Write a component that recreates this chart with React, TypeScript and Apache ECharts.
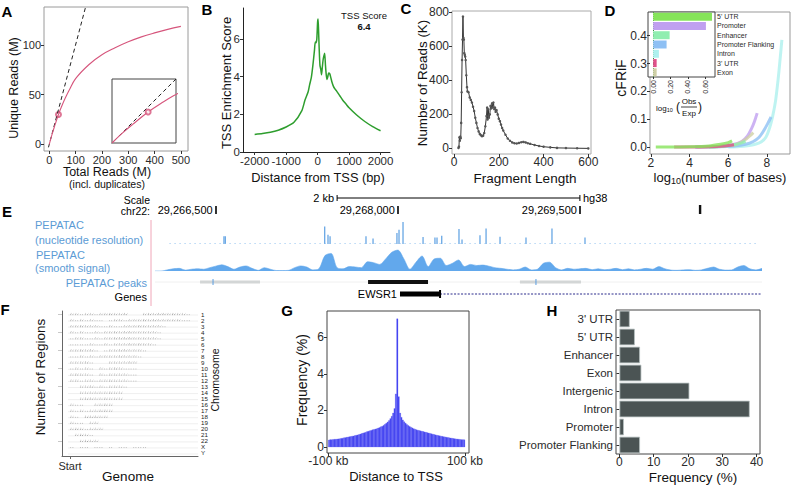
import React, { useEffect, useRef } from "react";
import * as echarts from "echarts";

const FONT = '"Liberation Sans", Arial, Helvetica, sans-serif';

// ---------------- A: library complexity ----------------
const aTotalReads = [0, 10, 20, 35, 50, 60, 75, 100, 150, 200, 250, 300, 350, 400, 450, 500];
const aUniqueReads = [0, 9.5, 18, 30, 40, 46, 54, 66, 80, 90, 97, 103, 108, 112, 115.5, 118.5];
const aIdentity = [-3, 138];
const aSampled = [35, 30];
const aTicksX = [0, 100, 200, 300, 400, 500];
const aTicksY = [0, 50, 100];

// ---------------- B: TSS enrichment ----------------
const bDistance = [-2000, -1750, -1500, -1250, -1000, -750, -500, -400, -300, -250, -200, -150, -100, -75, -50, -25, 0, 15, 30, 50, 75, 100, 125, 150, 175, 200, 225, 250, 275, 300, 325, 350, 387, 420, 450, 500, 550, 600, 700, 800, 900, 1000, 1250, 1500, 1750, 2000];
const bScore = [0.93, 0.98, 1.05, 1.16, 1.33, 1.58, 2.2, 2.76, 3.2, 3.6, 3.95, 4.6, 5.4, 5.85, 5.8, 6.0, 6.9, 7.07, 6.5, 5.5, 4.6, 4.4, 4.1, 4.5, 4.9, 5.1, 5.25, 4.6, 4.1, 3.85, 4.0, 4.2, 4.15, 3.95, 3.75, 3.5, 3.35, 3.25, 3.0, 2.75, 2.55, 2.35, 1.95, 1.62, 1.35, 1.13];
const bTicksX = [-2000, -1000, 0, 1000, 2000];
const bTicksY = [0, 2, 4, 6];
const bScoreLabel = "TSS Score";
const bScoreValue = "6.4";

// ---------------- C: fragment length ----------------
const cLength = [20, 22, 24, 26, 28, 30, 32, 34, 36, 38, 40, 42, 44, 46, 48, 50, 52, 55, 58, 60, 65, 70, 75, 80, 85, 90, 95, 100, 105, 110, 115, 120, 125, 130, 135, 140, 145, 148, 150, 153, 156, 160, 163, 166, 170, 173, 176, 180, 183, 186, 190, 195, 200, 205, 210, 215, 220, 230, 240, 250, 260, 270, 280, 290, 300, 310, 320, 330, 340, 360, 380, 400, 430, 460, 500, 550, 600];
const cReads = [3, 10, 65, 45, 70, 60, 150, 330, 520, 640, 775, 650, 640, 560, 550, 540, 520, 430, 360, 335, 330, 300, 285, 270, 245, 220, 180, 150, 120, 100, 85, 78, 72, 75, 90, 130, 190, 240, 170, 230, 180, 200, 250, 235, 265, 240, 270, 230, 240, 215, 225, 200, 175, 160, 140, 120, 105, 80, 58, 45, 35, 30, 29, 32, 36, 38, 35, 30, 27, 20, 14, 10, 6, 3, 2, 1, 0];
const cTicksX = [0, 200, 400, 600];
const cTicksY = [0, 200, 400, 600, 800];

// ---------------- D: cFRiF ----------------
const dFeatures = ["5' UTR", "Promoter", "Enhancer", "Promoter Flanking", "Intron", "3' UTR", "Exon"];
const dColors = ["#86e45a", "#c0a0f0", "#90eeb0", "#8ec0f4", "#aef0ee", "#e0508a", "#cfcfa6"];
const dObsExp = [0.68, 0.61, 0.19, 0.155, 0.066, 0.04, 0.04];
const dCurves: Record<string, { x: number[]; y: number[] }> = {
  "Intron": { x: [6.0, 6.6, 7.0, 7.4, 7.7, 7.95, 8.15, 8.3, 8.45, 8.58, 8.68, 8.78], y: [0, 0.002, 0.005, 0.01, 0.018, 0.035, 0.07, 0.11, 0.165, 0.24, 0.31, 0.385] },
  "Promoter Flanking": { x: [4.3, 5.5, 6.3, 6.9, 7.3, 7.6, 7.85, 8.05, 8.22], y: [0, 0.001, 0.004, 0.01, 0.02, 0.035, 0.06, 0.085, 0.108] },
  "Promoter": { x: [4.3, 5.5, 6.2, 6.7, 7.0, 7.2, 7.35, 7.5], y: [0, 0.002, 0.008, 0.02, 0.04, 0.065, 0.09, 0.122] },
  "Exon": { x: [4.4, 5.5, 6.2, 6.6, 6.95, 7.15, 7.3], y: [0, 0.002, 0.006, 0.015, 0.03, 0.042, 0.052] },
  "Enhancer": { x: [5.0, 5.8, 6.3, 6.7, 6.9], y: [0, 0.003, 0.008, 0.015, 0.02] },
  "3' UTR": { x: [3.2, 4.0, 5.0, 5.8, 6.3], y: [0, 0, 0.001, 0.004, 0.008] },
  "5' UTR": { x: [2.25, 3.0, 4.0, 5.0, 5.6, 6.0, 6.2], y: [0, 0, 0.001, 0.004, 0.01, 0.016, 0.022] },
};
const dTicksX = [2, 4, 6, 8];
const dTicksY = [0, 0.1, 0.2, 0.3, 0.4];
const dInsetTicks = [0, 0.2, 0.4, 0.6];

// ---------------- E: genome browser ----------------
const eChrom = "chr22:";
const eWindow = [29266000, 29271000];
const eRulerTicks = [29266500, 29268000, 29269500];
const eScaleBar = [29267500, 29269500];
const eScaleLabel = "2 kb";
const eAssembly = "hg38";
const eMark = [29270490];
const eSpikePos = [29266568, 29266579, 29267398, 29267425, 29267442, 29267738, 29267796, 29267993, 29268010, 29268043, 29268208, 29268306, 29268323, 29268362, 29268504, 29268529, 29268677, 29268727, 29268842, 29269056, 29269270, 29269542];
const eSpikeHeight = [0.35, 0.35, 0.8, 0.42, 0.35, 0.35, 0.25, 0.5, 0.65, 1.0, 0.32, 0.3, 0.3, 0.38, 0.68, 0.2, 0.4, 0.7, 0.33, 0.3, 0.7, 0.3];
const eNucleotideSpan = [29266120, 29270950];
const eSmoothBinBp = 50;
const eSmooth = [0, 0, 0.05, 0.1, 0.12, 0.04, 0.08, 0.1, 0.08, 0.15, 0.22, 0.28, 0.2, 0.08, 0.18, 0.23, 0.12, 0.03, 0.15, 0.08, 0.02, 0.02, 0.03, 0.15, 0.23, 0.18, 0.05, 0.1, 0.7, 0.8, 0.15, 0.1, 0.2, 0.18, 0.15, 0.42, 0.38, 0.3, 0.55, 0.85, 0.95, 0.55, 0.08, 0.4, 0.68, 0.2, 0.55, 0.58, 0.25, 0.35, 0.5, 0.2, 0.3, 0.25, 0.27, 0.22, 0.15, 0.12, 0.08, 0.05, 0.08, 0.18, 0.05, 0.08, 0.35, 0.4, 0.15, 0.05, 0.12, 0.08, 0.1, 0.12, 0.06, 0.1, 0.06, 0.08, 0.12, 0.06, 0.1, 0.05, 0.08, 0.12, 0.08, 0.2, 0.1, 0.04, 0.03, 0.05, 0.06, 0.03, 0.05, 0.12, 0.18, 0.08, 0.04, 0.05, 0.18, 0.25, 0.1, 0.05, 0.12];
const ePeaks = [[29266371, 29266865, 0], [29267755, 29268249, 1], [29269006, 29269509, 0]];
const ePeakSummits = [29266478, 29269138];
const eGeneName = "EWSR1";
const eGeneThick = [29268018, 29268348];
const eGeneEnd = 29271000;
const eTrackLabels = ["PEPATAC", "(nucleotide resolution)", "PEPATAC", "(smooth signal)", "PEPATAC peaks", "Genes"];

// ---------------- F: chromosome distribution ----------------
const fChromosomes = ["1", "2", "3", "4", "5", "6", "7", "8", "9", "10", "11", "12", "13", "14", "15", "16", "17", "18", "19", "20", "21", "22", "X", "Y"];
const fBinMb = 10;
const fDensity = [
  [2, 2, 1, 2, 2, 1, 2, 2, 3, 2, 2, 3, 0, 0, 0, 2, 3, 2, 3, 3, 2, 3, 2, 2, 1],
  [2, 1, 2, 1, 2, 1, 1, 0, 1, 2, 2, 1, 2, 2, 2, 3, 2, 3, 2, 2, 2, 2, 2, 1, 1],
  [2, 2, 3, 2, 2, 2, 1, 1, 2, 1, 1, 2, 2, 2, 3, 2, 2, 2, 2, 1],
  [2, 1, 2, 1, 1, 2, 1, 2, 2, 3, 2, 3, 3, 2, 2, 2, 2, 2, 1],
  [1, 2, 2, 1, 1, 2, 1, 2, 2, 3, 3, 3, 3, 2, 2, 2, 2, 2, 1],
  [1, 1, 1, 1, 2, 1, 1, 2, 1, 2, 2, 2, 3, 2, 3, 2, 2, 1],
  [2, 2, 3, 2, 3, 1, 0, 1, 2, 2, 3, 3, 2, 2, 2, 1],
  [1, 1, 2, 1, 2, 1, 2, 2, 2, 2, 3, 2, 2, 2, 1],
  [2, 2, 2, 3, 1, 0, 0, 0, 2, 2, 2, 2, 3, 2],
  [1, 2, 1, 2, 1, 0, 2, 1, 2, 3, 2, 1, 1, 1],
  [2, 3, 2, 2, 1, 0, 2, 1, 2, 2, 2, 2, 1, 1],
  [2, 2, 1, 2, 2, 1, 2, 2, 3, 2, 2, 2, 1, 1],
  [0, 0, 2, 2, 3, 1, 2, 1, 2, 2, 2, 1],
  [0, 0, 2, 2, 2, 2, 2, 2, 3, 2, 2],
  [0, 0, 2, 3, 3, 2, 2, 3, 2, 2, 2],
  [2, 1, 1, 0, 0, 2, 2, 3, 2],
  [2, 1, 2, 1, 2, 2, 3, 3, 2],
  [2, 1, 0, 3, 3, 3, 2, 2],
  [2, 1, 1, 0, 2, 2],
  [2, 3, 2, 1, 2, 2, 2],
  [0, 2, 3, 2, 1],
  [0, 0, 2, 3, 2, 2],
  [1, 0, 1, 1, 0, 1, 1, 0, 1, 0, 1, 1, 0, 1, 1, 1],
  [0, 0, 0, 0, 0, 0],
];
const fStartLabel = "Start";

// ---------------- G: distance to TSS histogram ----------------
const gBinKb = 2;
const gFirstBinKb = -100;
const gFrequency = [0.38, 0.40, 0.40, 0.41, 0.42, 0.42, 0.43, 0.44, 0.45, 0.47, 0.48, 0.50, 0.51, 0.53, 0.54, 0.56, 0.57, 0.59, 0.60, 0.62, 0.64, 0.66, 0.68, 0.71, 0.73, 0.76, 0.78, 0.81, 0.84, 0.86, 0.89, 0.91, 0.94, 0.96, 0.98, 1.0, 1.03, 1.06, 1.10, 1.13, 1.18, 1.24, 1.30, 1.37, 1.45, 1.55, 1.68, 1.85, 2.1, 2.9, 7.0, 2.75, 1.85, 1.62, 1.48, 1.38, 1.30, 1.23, 1.17, 1.12, 1.08, 1.04, 1.0, 0.97, 0.94, 0.92, 0.90, 0.88, 0.86, 0.84, 0.82, 0.80, 0.78, 0.76, 0.74, 0.72, 0.70, 0.68, 0.66, 0.64, 0.62, 0.61, 0.59, 0.58, 0.56, 0.55, 0.53, 0.52, 0.50, 0.49, 0.48, 0.46, 0.45, 0.44, 0.43, 0.42, 0.41, 0.40, 0.40, 0.39];
const gTicksX = [-100, 100];
const gTicksY = [0, 2, 4, 6];

// ---------------- H: genomic partitions ----------------
const hCategories = ["3' UTR", "5' UTR", "Enhancer", "Exon", "Intergenic", "Intron", "Promoter", "Promoter Flanking"];
const hFrequency = [3.0, 4.5, 6.0, 6.4, 20.4, 38.0, 1.3, 6.0];
const hTicksX = [0, 10, 20, 30, 40];

// ---------------- helpers ----------------
const TXT = "#2b2b2b";
function valAxis(grid: number, min: number, max: number, ticks: number[], o: any = {}) {
  const label: any = {
    show: o.noLabel ? false : true,
    customValues: ticks,
    fontSize: o.fontSize ?? 11,
    color: TXT,
    margin: o.margin ?? 3,
    fontFamily: FONT,
    formatter: o.fmt ?? ((v: number) => String(v)),
    showMinLabel: true,
    showMaxLabel: true,
    hideOverlap: false,
  };
  return {
    type: "value",
    gridIndex: grid,
    min,
    max,
    position: o.position,
    axisLine: { show: !!o.line, onZero: false, lineStyle: { color: "#222", width: 1 } },
    axisTick: { show: true, length: o.tickLen ?? 3, lineStyle: { color: "#333" }, customValues: ticks },
    axisLabel: label,
    splitLine: { show: false },
  };
}
function hiddenAxis(grid: number, min: number, max: number) {
  return { type: "value", gridIndex: grid, min, max, show: false, axisLine: { onZero: false }, splitLine: { show: false } };
}
function txt(text: string, x: number, y: number, o: any = {}) {
  return {
    type: "text",
    x,
    y,
    rotation: o.rot ?? 0,
    z: 100,
    style: {
      text,
      fill: o.fill ?? "#111",
      fontSize: o.size ?? 13,
      fontFamily: FONT,
      fontWeight: o.bold ? "bold" : "normal",
      align: o.align ?? "center",
      verticalAlign: o.va ?? "middle",
      rich: o.rich,
    },
  };
}
const commas = (v: number) => String(Math.round(v)).replace(/\B(?=(\d{3})+(?!\d))/g, ",");

function buildOption() {
  const grids = [
    { left: 44, top: 7, width: 144, height: 144, show: true, borderColor: "#9a9a9a", borderWidth: 1 }, // 0 A
    { left: 112, top: 79, width: 64, height: 64, show: true, borderColor: "#444", borderWidth: 1, backgroundColor: "#fff" }, // 1 A inset
    { left: 243, top: 8, width: 147, height: 144 }, // 2 B
    { left: 452, top: 11, width: 139, height: 143, show: true, borderColor: "#aaa", borderWidth: 1 }, // 3 C
    { left: 650, top: 12, width: 140, height: 142, show: true, borderColor: "#999", borderWidth: 1 }, // 4 D
    { left: 648, top: 12, width: 67, height: 65, show: true, borderColor: "#444", borderWidth: 1, backgroundColor: "#fff" }, // 5 D inset
    { left: 155, top: 206, width: 607, height: 8 }, // 6 E ruler
    { left: 155, top: 222, width: 607, height: 22 }, // 7 E nucleotide
    { left: 155, top: 249, width: 607, height: 22 }, // 8 E smooth
    { left: 155, top: 276, width: 607, height: 24 }, // 9 E peaks/genes
    { left: 62, top: 311, width: 136, height: 145 }, // 10 F
    { left: 327, top: 311, width: 142, height: 142, show: true, borderColor: "#444", borderWidth: 1 }, // 11 G
    { left: 616, top: 310, width: 144, height: 144, show: true, borderColor: "#444", borderWidth: 1 }, // 12 H
  ];

  const xAxis: any[] = [
    valAxis(0, -20, 527, aTicksX),
    hiddenAxis(1, 0, 62),
    valAxis(2, -2370, 2300, bTicksX, { line: true, fontSize: 11.5 }),
    valAxis(3, -9, 612, cTicksX, { fontSize: 12, margin: 2 }),
    valAxis(4, 1.95, 9.2, dTicksX, { fontSize: 12 }),
    valAxis(5, -0.06, 0.715, dInsetTicks, { tickLen: 2, noLabel: true }),
    {
      type: "value", gridIndex: 6, min: eWindow[0], max: eWindow[1], position: "top",
      axisLine: { show: false, onZero: false },
      axisTick: { show: true, inside: true, length: 8, customValues: eRulerTicks, lineStyle: { color: "#000", width: 1.6 } },
      axisLabel: { customValues: eRulerTicks, formatter: (v: number) => commas(v), align: "right", verticalAlign: "middle", margin: -4, padding: [0, 3, 0, 0], fontSize: 11, color: "#000", fontFamily: FONT },
      splitLine: { show: false },
    },
    hiddenAxis(7, eWindow[0], eWindow[1]),
    hiddenAxis(8, eWindow[0], eWindow[1]),
    hiddenAxis(9, eWindow[0], eWindow[1]),
    {
      type: "value", gridIndex: 10, min: -16.5, max: 264,
      axisLine: { show: true, onZero: false, lineStyle: { color: "#666", width: 1 } },
      axisTick: { show: true, length: 3, customValues: [0], lineStyle: { color: "#666" } },
      axisLabel: { customValues: [0], formatter: () => fStartLabel, fontSize: 11, color: TXT, margin: 4, fontFamily: FONT },
      splitLine: { show: false },
    },
    valAxis(11, -102, 106, gTicksX, { fontSize: 12, margin: 2, fmt: (v: number) => `${v} kb` }),
    valAxis(12, -1, 41, hTicksX, { fontSize: 12, margin: 2 }),
  ];

  const yAxis: any[] = [
    valAxis(0, -6.7, 138, aTicksY),
    hiddenAxis(1, 0, 62),
    valAxis(2, 0, 7.65, bTicksY, { line: true, fontSize: 11.5 }),
    valAxis(3, -33, 808, cTicksY, { fontSize: 12 }),
    valAxis(4, -0.025, 0.485, dTicksY, { fontSize: 12, fmt: (v: number) => v.toFixed(1) }),
    {
      type: "category", gridIndex: 5, data: dFeatures, inverse: true, position: "right",
      axisLine: { show: false },
      axisTick: { show: true, length: 2, alignWithLabel: true, lineStyle: { color: "#333" } },
      axisLabel: { fontSize: 7, color: TXT, margin: 2, interval: 0, fontFamily: FONT },
    },
    { type: "value", gridIndex: 6, min: 0, max: 1, show: false },
    hiddenAxis(7, 0, 1),
    hiddenAxis(8, 0, 1),
    hiddenAxis(9, 0, 2),
    {
      type: "category", gridIndex: 10, data: fChromosomes, inverse: true,
      axisLine: { show: true, onZero: false, lineStyle: { color: "#666", width: 1 } },
      axisTick: { show: true, length: 4, alignWithLabel: true, lineStyle: { color: "#c8c8c8" } },
      axisLabel: { show: false },
    },
    valAxis(11, -0.33, 7.43, gTicksY, { fontSize: 12 }),
    {
      type: "category", gridIndex: 12, data: hCategories, inverse: true,
      axisLine: { show: false },
      axisTick: { show: true, length: 3, alignWithLabel: true, lineStyle: { color: "#333" } },
      axisLabel: { fontSize: 11.5, color: TXT, margin: 3, interval: 0, fontFamily: FONT },
    },
    {
      type: "category", gridIndex: 10, data: fChromosomes, inverse: true, position: "right",
      axisLine: { show: false }, axisTick: { show: false },
      axisLabel: { fontSize: 6.2, lineHeight: 6, color: "#222", margin: 3, interval: 0, fontFamily: FONT },
    },
  ];

  const aCurve = aTotalReads.map((x, i) => [x, aUniqueReads[i]]);
  const aDiag = [[aIdentity[0], aIdentity[0]], [aIdentity[1], aIdentity[1]]];
  const RED = "#d6557c";

  const series: any[] = [];
  // A
  series.push({ type: "line", xAxisIndex: 0, yAxisIndex: 0, data: aDiag, showSymbol: false, lineStyle: { color: "#222", width: 1, type: [4, 3] } });
  series.push({ type: "line", xAxisIndex: 0, yAxisIndex: 0, data: aCurve, smooth: 0.4, showSymbol: false, lineStyle: { color: RED, width: 1.1 } });
  series.push({ type: "scatter", xAxisIndex: 0, yAxisIndex: 0, data: [aSampled], symbol: "emptyCircle", symbolSize: 5, itemStyle: { color: RED, borderColor: RED, borderWidth: 1 } });
  series.push({ type: "line", xAxisIndex: 1, yAxisIndex: 1, data: aDiag, showSymbol: false, clip: true, lineStyle: { color: "#222", width: 1, type: [4, 3] }, z: 5 });
  series.push({ type: "line", xAxisIndex: 1, yAxisIndex: 1, data: aCurve, smooth: 0.4, showSymbol: false, clip: true, lineStyle: { color: RED, width: 1.1 }, z: 5 });
  series.push({ type: "scatter", xAxisIndex: 1, yAxisIndex: 1, data: [aSampled], symbol: "emptyCircle", symbolSize: 5, itemStyle: { color: RED, borderColor: RED, borderWidth: 1 }, z: 5 });
  // B
  series.push({ type: "line", xAxisIndex: 2, yAxisIndex: 2, data: bDistance.map((x, i) => [x, bScore[i]]), smooth: 0.2, showSymbol: false, lineStyle: { color: "#2e9e2e", width: 1.5 } });
  // C
  series.push({ type: "line", xAxisIndex: 3, yAxisIndex: 3, data: cLength.map((x, i) => [x, cReads[i]]), symbol: "circle", symbolSize: 2.5, showSymbol: true, lineStyle: { color: "#333", width: 1 }, itemStyle: { color: "#555" } });
  // D curves
  Object.keys(dCurves).forEach((name) => {
    const c = dCurves[name];
    const col = dColors[dFeatures.indexOf(name)];
    series.push({ type: "line", xAxisIndex: 4, yAxisIndex: 4, data: c.x.map((x, i) => [x, c.y[i]]), smooth: 0.3, showSymbol: false, lineStyle: { color: col, width: 3, opacity: 0.8 } });
  });
  // D inset bars
  series.push({
    type: "bar", xAxisIndex: 5, yAxisIndex: 5, z: 6, barCategoryGap: "14%",
    data: dObsExp.map((v, i) => ({ value: v, itemStyle: { color: dColors[i] } })),
    markLine: { silent: true, symbol: "none", label: { show: false }, lineStyle: { type: "dotted", color: "#3a8a3a", width: 1 }, data: [{ xAxis: 0 }] },
  });
  // D inset rotated tick labels (below the inset box)
  series.push({
    type: "custom", coordinateSystem: "cartesian2d", xAxisIndex: 5, yAxisIndex: 5, z: 7,
    data: dInsetTicks.map((v) => [v]),
    encode: { x: 0 },
    renderItem: (params: any, api: any) => {
      const c = api.coord([api.value(0), 0]);
      const cs = params.coordSys;
      return {
        type: "text", x: c[0], y: cs.y + cs.height + 3, rotation: Math.PI / 2,
        style: { text: Number(api.value(0)).toFixed(2), align: "right", verticalAlign: "middle", fontSize: 7, fill: TXT, fontFamily: FONT },
      };
    },
  });
  // E ruler: scale bar and mark
  series.push({
    type: "custom", coordinateSystem: "cartesian2d", xAxisIndex: 6, yAxisIndex: 6,
    data: [[eScaleBar[0], eScaleBar[1]]],
    renderItem: (_p: any, api: any) => {
      const a = api.coord([api.value(0), 2]);
      const b = api.coord([api.value(1), 2]);
      const ls = { stroke: "#000", lineWidth: 1 };
      return {
        type: "group",
        children: [
          { type: "line", shape: { x1: a[0], y1: a[1], x2: b[0], y2: b[1] }, style: ls },
          { type: "line", shape: { x1: a[0], y1: a[1] - 3, x2: a[0], y2: a[1] + 3 }, style: ls },
          { type: "line", shape: { x1: b[0], y1: b[1] - 3, x2: b[0], y2: b[1] + 3 }, style: ls },
          { type: "text", x: a[0] - 3, y: a[1], style: { text: eScaleLabel, align: "right", verticalAlign: "middle", fontSize: 11, fill: "#000", fontFamily: FONT } },
          { type: "text", x: b[0] + 3, y: b[1], style: { text: eAssembly, align: "left", verticalAlign: "middle", fontSize: 11, fill: "#000", fontFamily: FONT } },
        ],
      };
    },
  });
  series.push({
    type: "custom", coordinateSystem: "cartesian2d", xAxisIndex: 6, yAxisIndex: 6,
    data: eMark.map((v) => [v]),
    renderItem: (_p: any, api: any) => {
      const a = api.coord([api.value(0), 1]);
      return { type: "rect", shape: { x: a[0] - 1.2, y: a[1] - 1, width: 2.4, height: 9 }, style: { fill: "#111" } };
    },
  });
  // E nucleotide track
  series.push({
    type: "line", xAxisIndex: 7, yAxisIndex: 7, data: eNucleotideSpan.map((x) => [x, 0.02]), showSymbol: false,
    lineStyle: { color: "#8fc0ee", width: 1, type: [1, 4] },
  });
  series.push({
    type: "custom", coordinateSystem: "cartesian2d", xAxisIndex: 7, yAxisIndex: 7,
    data: eSpikePos.map((p, i) => [p, eSpikeHeight[i]]),
    renderItem: (_p: any, api: any) => {
      const b = api.coord([api.value(0), 0]);
      const t = api.coord([api.value(0), api.value(1)]);
      return { type: "rect", shape: { x: b[0] - 0.6, y: t[1], width: 1.2, height: b[1] - t[1] }, style: { fill: "#5b9fe2" } };
    },
  });
  // E smooth signal
  series.push({
    type: "line", xAxisIndex: 8, yAxisIndex: 8, showSymbol: false, smooth: 0.3,
    data: eSmooth.map((v, i) => [eWindow[0] + i * eSmoothBinBp, v]),
    lineStyle: { color: "#62a8ec", width: 0.6 }, areaStyle: { color: "#62a8ec", opacity: 1 },
  });
  // E peaks
  series.push({
    type: "custom", coordinateSystem: "cartesian2d", xAxisIndex: 9, yAxisIndex: 9,
    data: ePeaks,
    renderItem: (params: any, api: any) => {
      const s = api.coord([api.value(0), 1.5]);
      const e = api.coord([api.value(1), 1.5]);
      const strong = api.value(2) === 1;
      const h = strong ? 4 : 3;
      const children: any[] = [];
      if (params.dataIndex === 0) {
        const cs = params.coordSys;
        children.push({ type: "line", shape: { x1: cs.x, y1: s[1], x2: cs.x + cs.width, y2: s[1] }, style: { stroke: "#f0f0f0", lineWidth: 1 } });
      }
      children.push({ type: "rect", shape: { x: s[0], y: s[1] - h / 2, width: e[0] - s[0], height: h }, style: { fill: strong ? "#111" : "#d3d6d6" } });
      return { type: "group", children };
    },
  });
  series.push({
    type: "custom", coordinateSystem: "cartesian2d", xAxisIndex: 9, yAxisIndex: 9,
    data: ePeakSummits.map((v) => [v]),
    renderItem: (_p: any, api: any) => {
      const c = api.coord([api.value(0), 1.5]);
      return { type: "rect", shape: { x: c[0] - 0.5, y: c[1] - 3, width: 1, height: 6 }, style: { fill: "#5b9fe2" } };
    },
    z: 3,
  });
  // E gene
  series.push({
    type: "custom", coordinateSystem: "cartesian2d", xAxisIndex: 9, yAxisIndex: 9,
    data: [[eGeneThick[0], eGeneThick[1], eGeneEnd]],
    renderItem: (_p: any, api: any) => {
      const s = api.coord([api.value(0), 0.5]);
      const e = api.coord([api.value(1), 0.5]);
      const end = api.coord([api.value(2), 0.5]);
      const children: any[] = [
        { type: "line", shape: { x1: e[0], y1: e[1], x2: end[0], y2: e[1] }, style: { stroke: "#2a2a8c", lineWidth: 1, lineDash: [2, 1.5] } },
        { type: "rect", shape: { x: s[0], y: s[1] - 2.5, width: e[0] - s[0], height: 5 }, style: { fill: "#000" } },
        { type: "rect", shape: { x: e[0] - 1, y: s[1] - 4, width: 2, height: 8 }, style: { fill: "#000" } },
        { type: "text", x: s[0] - 3, y: s[1], style: { text: eGeneName, align: "right", verticalAlign: "middle", fontSize: 11, fill: "#000", fontFamily: FONT } },
      ];
      return { type: "group", children };
    },
  });
  // F baselines and density ticks
  series.push({
    type: "custom", coordinateSystem: "cartesian2d", xAxisIndex: 10, yAxisIndex: 10,
    data: fChromosomes.map((_c, i) => [0, i]),
    encode: { x: 0, y: 1 },
    renderItem: (params: any, api: any) => {
      const c = api.coord([0, api.value(1)]);
      const cs = params.coordSys;
      return { type: "line", shape: { x1: cs.x + 6, y1: c[1] + 1, x2: cs.x + cs.width, y2: c[1] + 1 }, style: { stroke: "#e8e8e8", lineWidth: 0.7 } };
    },
  });
  const fData: number[][] = [];
  fDensity.forEach((bins, row) => bins.forEach((v, b) => { if (v > 0) fData.push([b * fBinMb, (b + 1) * fBinMb, row, v]); }));
  series.push({
    type: "custom", coordinateSystem: "cartesian2d", xAxisIndex: 10, yAxisIndex: 10,
    data: fData,
    encode: { x: [0, 1], y: 2 },
    renderItem: (_p: any, api: any) => {
      const p0 = api.coord([api.value(0), api.value(2)]);
      const p1 = api.coord([api.value(1), api.value(2)]);
      const v = api.value(3);
      const y = p0[1] + 0.6;
      const children: any[] = [
        { type: "line", shape: { x1: p0[0] + 0.3, y1: y, x2: p1[0] - 0.3, y2: y }, style: { stroke: "#555", lineWidth: 0.8, lineDash: [0.8, 1.4], opacity: 0.35 + 0.15 * v } },
      ];
      if (v >= 2) {
        children.push({ type: "line", shape: { x1: p0[0] + 0.8, y1: y - 1.2, x2: p1[0] - 0.8, y2: y - 1.2 }, style: { stroke: "#555", lineWidth: 0.7, lineDash: [0.7, 2.2], opacity: 0.25 + 0.15 * v } });
      }
      return { type: "group", children };
    },
  });
  // G histogram
  series.push({
    type: "custom", coordinateSystem: "cartesian2d", xAxisIndex: 11, yAxisIndex: 11,
    data: gFrequency.map((v, i) => [gFirstBinKb + i * gBinKb, gFirstBinKb + (i + 1) * gBinKb, v]),
    encode: { x: [0, 1], y: 2 },
    renderItem: (_p: any, api: any) => {
      const p0 = api.coord([api.value(0), 0]);
      const p1 = api.coord([api.value(1), api.value(2)]);
      return { type: "rect", shape: { x: p0[0], y: p1[1], width: p1[0] - p0[0], height: p0[1] - p1[1] }, style: { fill: "#3d3df0", stroke: "#7070f6", lineWidth: 0.3 } };
    },
  });
  // H bars
  series.push({
    type: "bar", xAxisIndex: 12, yAxisIndex: 12, data: hFrequency, barCategoryGap: "8%",
    itemStyle: { color: "#4b5454", borderColor: "#b8c2c2", borderWidth: 0.8 },
  });

  // ---------- graphic texts ----------
  const graphic: any[] = [];
  [["A", 7, 11], ["B", 207, 9], ["C", 406, 8], ["D", 610, 10], ["E", 7, 211], ["F", 5, 309], ["G", 287, 310], ["H", 552, 310]].forEach(([t, x, y]) =>
    graphic.push(txt(t as string, x as number, y as number, { size: 15, bold: true, fill: "#000" }))
  );
  const R = Math.PI / 2;
  graphic.push(txt("Unique Reads (M)", 14, 88, { rot: R, size: 12.5 }));
  graphic.push(txt("Total Reads (M)", 107, 172, { size: 12.5 }));
  graphic.push(txt("(incl. duplicates)", 107, 184, { size: 10.5 }));
  graphic.push(txt("TSS Enrichment Score", 226, 83, { rot: R, size: 13 }));
  graphic.push(txt("Distance from TSS (bp)", 318, 177, { size: 12.8 }));
  graphic.push(txt(bScoreLabel, 364, 15, { size: 9.5 }));
  graphic.push(txt(bScoreValue, 364, 26, { size: 9.5, bold: true }));
  graphic.push(txt("Number of Reads (K)", 422, 83, { rot: R, size: 13.4 }));
  graphic.push(txt("Fragment Length", 525, 178, { size: 13.5 }));
  graphic.push(txt("cFRiF", 621, 78, { rot: R, size: 14 }));
  graphic.push(txt("{a|log}{b|10}{a|(number of bases)}", 720, 177, { rich: { a: { fontSize: 13, fontFamily: FONT, fill: "#111" }, b: { fontSize: 9, fontFamily: FONT, fill: "#111", padding: [7, 0, 0, 0] } } }));
  // log10(Obs/Exp)
  graphic.push(txt("{a|log}{b|10}", 656, 108, { align: "left", rich: { a: { fontSize: 8, fontFamily: FONT, fill: "#111" }, b: { fontSize: 5.5, fontFamily: FONT, fill: "#111", padding: [4, 0, 0, 0] } } }));
  graphic.push(txt("(", 678, 107, { size: 12 }));
  graphic.push(txt("Obs", 689, 101, { size: 8 }));
  graphic.push({ type: "line", z: 100, shape: { x1: 681, y1: 107, x2: 697, y2: 107 }, style: { stroke: "#111", lineWidth: 0.8 } });
  graphic.push(txt("Exp", 689, 113, { size: 8 }));
  graphic.push(txt(")", 700, 107, { size: 12 }));
  // E labels
  graphic.push(txt("Scale", 150, 200, { align: "right", size: 10.5, fill: "#000" }));
  graphic.push(txt(eChrom, 150, 211, { align: "right", size: 10.5, fill: "#000" }));
  const BLUE = "#5b9bd5";
  graphic.push(txt(eTrackLabels[0], 35, 225, { align: "left", size: 11, fill: BLUE }));
  graphic.push(txt(eTrackLabels[1], 35, 240, { align: "left", size: 11, fill: BLUE }));
  graphic.push(txt(eTrackLabels[2], 36, 255, { align: "left", size: 11, fill: BLUE }));
  graphic.push(txt(eTrackLabels[3], 35, 268, { align: "left", size: 11, fill: BLUE }));
  graphic.push(txt(eTrackLabels[4], 147, 283, { align: "right", size: 11, fill: BLUE }));
  graphic.push(txt(eTrackLabels[5], 147, 297, { align: "right", size: 11, fill: "#000" }));
  graphic.push({ type: "line", z: 100, shape: { x1: 151, y1: 220, x2: 151, y2: 306 }, style: { stroke: "#f0a6b8", lineWidth: 1 } });
  // F labels
  graphic.push(txt("Number of Regions", 40, 377, { rot: R, size: 13.5 }));
  graphic.push(txt("Chromosome", 215, 380, { rot: R, size: 10.5 }));
  graphic.push(txt("Genome", 128, 476, { size: 13.5 }));
  // G / H labels
  graphic.push(txt("Frequency (%)", 302, 380, { rot: R, size: 14 }));
  graphic.push(txt("Distance to TSS", 396, 476, { size: 13 }));
  graphic.push(txt("Frequency (%)", 693, 477, { size: 13.5 }));

  return {
    animation: false,
    backgroundColor: "#fff",
    textStyle: { fontFamily: FONT },
    grid: grids,
    xAxis,
    yAxis,
    series,
    graphic,
  };
}

export default function App() {
  const ref = useRef<HTMLDivElement>(null);
  useEffect(() => {
    if (!ref.current) return;
    const chart = echarts.init(ref.current, null, { renderer: "svg" });
    chart.setOption(buildOption() as any);
    return () => chart.dispose();
  }, []);
  return <div ref={ref} style={{ position: "fixed", left: 0, top: 0, width: 793, height: 485, background: "#fff" }} />;
}
